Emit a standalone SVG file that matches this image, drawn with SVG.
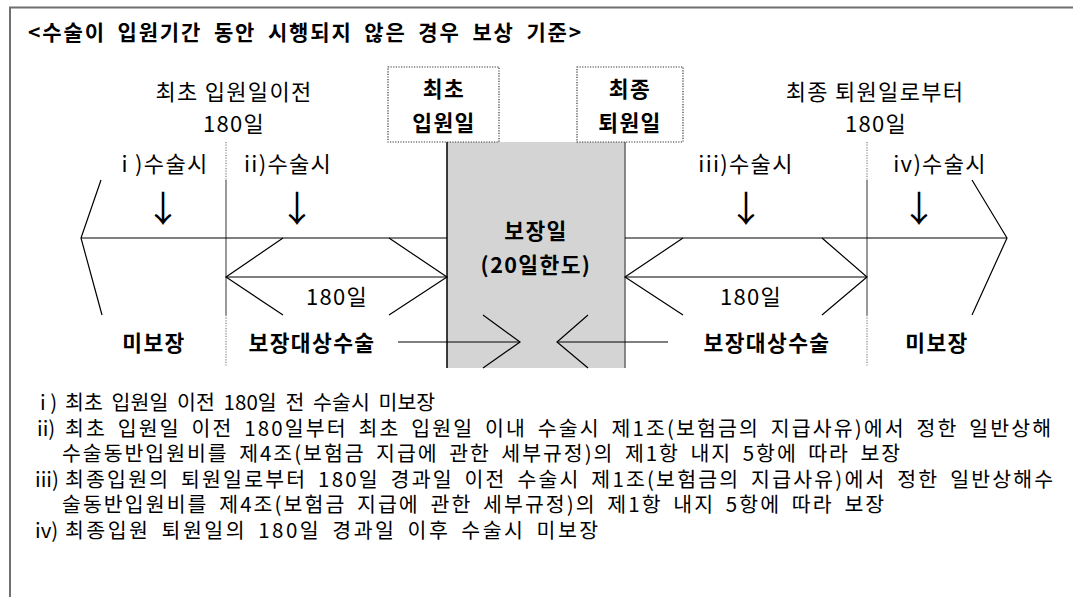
<svg xmlns="http://www.w3.org/2000/svg" width="1073" height="597" viewBox="0 0 1073 597">
<style>
text{font-family:"Noto Sans CJK KR","Liberation Sans",sans-serif;fill:#000}
.t22{font-size:22px;letter-spacing:1.3px;text-anchor:middle;dominant-baseline:central}
.b21{font-size:21.5px;font-weight:bold;letter-spacing:1.4px;text-anchor:middle;dominant-baseline:central}
.body{font-size:20.5px;letter-spacing:1.8px;word-spacing:4px;dominant-baseline:central}
.lab{font-size:20.5px;dominant-baseline:central}
.ln{stroke:#000;stroke-width:1.2;fill:none}
.sep{stroke:#808080;stroke-width:1.6;fill:none}
.dot{stroke:#808080;stroke-width:1.2;stroke-dasharray:1.2 1.4;fill:none}
.dbox{stroke:#333;stroke-width:1.2;stroke-dasharray:1.2 1.4;fill:none}
.arr{font-family:"Noto Sans CJK KR","DejaVu Sans",sans-serif;font-size:36px;text-anchor:middle;dominant-baseline:central}
</style>
<rect width="1073" height="597" fill="#fff"/>
<g id="frame">
<path d="M10,597 L10,7.5 L1073,7.5" stroke="#707070" stroke-width="2" fill="none"/>
</g>
<g id="title">
<text x="28" y="31" font-size="21" font-weight="bold" letter-spacing="1.8" word-spacing="5" dominant-baseline="central" textLength="555" lengthAdjust="spacing">&lt;수술이 입원기간 동안 시행되지 않은 경우 보상 기준&gt;</text>
</g>
<g id="covered-period">
<rect x="447" y="142" width="178" height="226" fill="#d4d4d4"/>
<line x1="447" y1="142" x2="447" y2="368" stroke="#000" stroke-width="1.5"/>
<line x1="625" y1="142" x2="625" y2="368" stroke="#666" stroke-width="1.5"/>
<text class="b21" x="536" y="229">보장일</text>
<text class="b21" x="536" y="263">(20일한도)</text>
</g>
<g id="first-admission">
<rect class="dbox" x="388" y="67" width="111" height="75"/>
<text class="b21" x="444" y="87">최초</text>
<text class="b21" x="444" y="121">입원일</text>
</g>
<g id="last-discharge">
<rect class="dbox" x="577" y="67" width="106" height="75"/>
<text class="b21" x="630" y="87">최종</text>
<text class="b21" x="630" y="121">퇴원일</text>
</g>
<g id="before-label">
<text class="t22" x="234" y="90">최초 입원일이전</text>
<text class="t22" x="234" y="122">180일</text>
</g>
<g id="after-label">
<text class="t22" x="875" y="90">최종 퇴원일로부터</text>
<text class="t22" x="876" y="122">180일</text>
</g>
<g id="case-i">
<text class="t22" x="165" y="162">i )수술시</text>
<text class="arr" x="163" y="206">↓</text>
</g>
<g id="case-ii">
<text class="t22" x="288" y="162">ii)수술시</text>
<text class="arr" x="297" y="206">↓</text>
</g>
<g id="case-iii">
<text class="t22" x="746" y="162">iii)수술시</text>
<text class="arr" x="746" y="206">↓</text>
</g>
<g id="case-iv">
<text class="t22" x="940" y="162">iv)수술시</text>
<text class="arr" x="919" y="206">↓</text>
</g>
<g id="span-labels">
<text class="t22" x="337" y="295">180일</text>
<text class="t22" x="751" y="295">180일</text>
</g>
<g id="zone-labels">
<text class="b21" x="154" y="341">미보장</text>
<text class="b21" x="312" y="341">보장대상수술</text>
<text class="b21" x="767" y="341">보장대상수술</text>
<text class="b21" x="937" y="341">미보장</text>
</g>
<g id="connectors">
<line class="dot" x1="226" y1="142" x2="226" y2="180"/>
<line class="sep" x1="226" y1="180" x2="226" y2="315"/>
<line class="dot" x1="226" y1="315" x2="226" y2="367"/>
<line class="dot" x1="867" y1="142" x2="867" y2="180"/>
<line class="sep" x1="867" y1="180" x2="867" y2="315"/>
<line class="dot" x1="867" y1="315" x2="867" y2="367"/>
<polyline class="ln" points="101,180 81,238 102,315"/>
<line class="ln" x1="81" y1="238" x2="447" y2="238"/>
<polyline class="ln" points="972,180 1007,238 972,315"/>
<line class="ln" x1="625" y1="238" x2="1007" y2="238"/>
<line class="ln" x1="226" y1="277" x2="447" y2="277"/>
<polyline class="ln" points="283,238 226,277 283,315"/>
<polyline class="ln" points="389,238 447,277 389,315"/>
<line class="ln" x1="625" y1="277" x2="867" y2="277"/>
<polyline class="ln" points="683,238 625,277 683,315"/>
<polyline class="ln" points="822,238 867,277 822,315"/>
<line class="ln" x1="398" y1="342" x2="520" y2="342"/>
<polyline class="ln" points="483,315 520,342 483,368"/>
<line class="ln" x1="668" y1="342" x2="557" y2="342"/>
<polyline class="ln" points="588,315 557,342 588,368"/>
</g>
<g id="notes">
<text class="lab" x="40" y="401">i )</text>
<text class="body" x="65" y="401" textLength="372" lengthAdjust="spacing">최초 입원일 이전 180일 전 수술시 미보장</text>
<text class="lab" x="37" y="426.6">ii)</text>
<text class="body" x="65" y="426.6" textLength="988" lengthAdjust="spacing">최초 입원일 이전 180일부터 최초 입원일 이내 수술시 제1조(보험금의 지급사유)에서 정한 일반상해</text>
<text class="body" x="62" y="452.2" textLength="840" lengthAdjust="spacing">수술동반입원비를 제4조(보험금 지급에 관한 세부규정)의 제1항 내지 5항에 따라 보장</text>
<text class="lab" x="35" y="477.8">iii)</text>
<text class="body" x="65" y="477.8" textLength="990" lengthAdjust="spacing">최종입원의 퇴원일로부터 180일 경과일 이전 수술시 제1조(보험금의 지급사유)에서 정한 일반상해수</text>
<text class="body" x="62" y="503.4" textLength="824" lengthAdjust="spacing">술동반입원비를 제4조(보험금 지급에 관한 세부규정)의 제1항 내지 5항에 따라 보장</text>
<text class="lab" x="35" y="529">iv)</text>
<text class="body" x="65" y="529" textLength="535" lengthAdjust="spacing">최종입원 퇴원일의 180일 경과일 이후 수술시 미보장</text>
</g>
</svg>
